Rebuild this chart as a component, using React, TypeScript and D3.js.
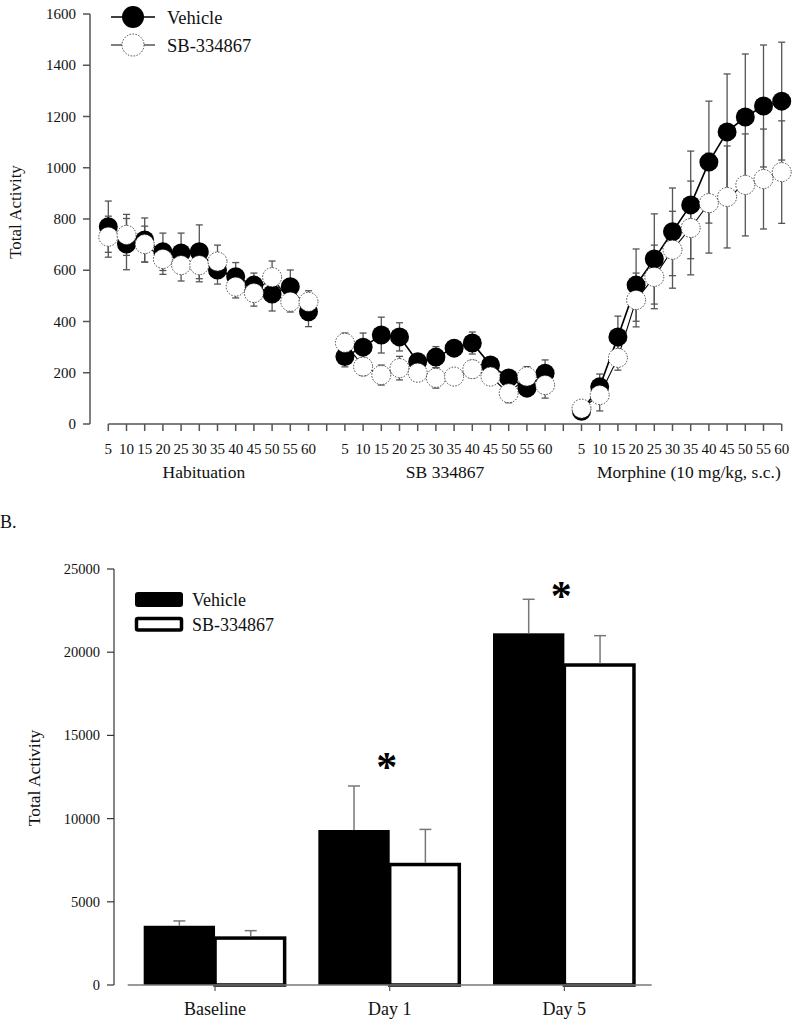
import React from "react";
import * as d3 from "d3";

// ---------- Panel A data ----------
const timeLabels = ["5", "10", "15", "20", "25", "30", "35", "40", "45", "50", "55", "60"];
const phaseNames = ["Habituation", "SB 334867", "Morphine (10 mg/kg, s.c.)"];

const vehicleHab = [770, 702, 718, 672, 667, 672, 601, 575, 542, 507, 536, 438];
const vehicleHabErr = [100, 100, 86, 73, 78, 105, 55, 55, 47, 66, 65, 58];
const sbHab = [731, 738, 702, 644, 620, 620, 634, 536, 511, 573, 477, 477];
const sbHabErr = [80, 80, 70, 60, 62, 65, 64, 44, 51, 63, 40, 43];

const vehicleSbPhase = [263, 300, 347, 340, 243, 261, 296, 316, 230, 180, 140, 198];
const vehicleSbPhaseErr = [40, 55, 70, 55, 25, 41, 30, 43, 20, 30, 25, 52];
const sbSbPhase = [317, 224, 191, 218, 200, 180, 185, 214, 185, 120, 185, 152];
const sbSbPhaseErr = [38, 35, 39, 46, 25, 40, 30, 34, 20, 37, 39, 51];

const vehicleMor = [50, 145, 340, 542, 644, 750, 855, 1022, 1140, 1198, 1241, 1260];
const vehicleMorErr = [15, 50, 81, 141, 176, 171, 210, 238, 226, 246, 238, 230];
const sbMor = [60, 113, 258, 484, 574, 680, 765, 862, 886, 933, 956, 983];
const sbMorErr = [15, 62, 48, 105, 124, 150, 183, 195, 199, 199, 195, 200];

const topYTicks = [0, 200, 400, 600, 800, 1000, 1200, 1400, 1600];

// ---------- Panel B data ----------
const days = ["Baseline", "Day 1", "Day 5"];
const vehicleTotal = [3560, 9315, 21135];
const vehicleTotalErr = [290, 2645, 2045];
const sbTotal = [2820, 7240, 19230];
const sbTotalErr = [445, 2110, 1765];
const bottomYTicks = [0, 5000, 10000, 15000, 20000, 25000];
const significantDays = ["Day 1", "Day 5"];
const asteriskLevels = [13420, 23700];

const FONT = "'Liberation Serif', 'Times New Roman', serif";

type Pt = { i: number; v: number; e: number };

function buildSeries(vals: number[][], errs: number[][]): Pt[][] {
  return vals.map((arr, p) => arr.map((v, j) => ({ i: p * 13 + j, v, e: errs[p][j] })));
}

export default function App() {
  // Panel A scales
  const x = d3.scaleLinear().domain([0, 37]).range([108.3, 781.7]);
  const y = d3.scaleLinear().domain([0, 1600]).range([424, 14]);

  const vehicle = buildSeries([vehicleHab, vehicleSbPhase, vehicleMor], [vehicleHabErr, vehicleSbPhaseErr, vehicleMorErr]);
  const sb = buildSeries([sbHab, sbSbPhase, sbMor], [sbHabErr, sbSbPhaseErr, sbMorErr]);

  const line = d3
    .line<Pt>()
    .x((d) => x(d.i))
    .y((d) => y(d.v));

  const R = 9.5;
  const cap = 3.5;
  const allIdx = d3.range(38);

  // Panel B scales
  const xB = d3.scaleBand<string>().domain(days).range([127.7, 651.7]).paddingInner(0.183).paddingOuter(0.0915);
  const yB = d3.scaleLinear().domain([0, 25000]).range([985, 569]);
  const bw = xB.bandwidth();
  const sw = 3.5;

  const errBars = (series: Pt[][], key: string) =>
    series.flat().map((d, k) => (
      <g key={key + k} stroke="#555" strokeWidth={1.3}>
        <line x1={x(d.i)} x2={x(d.i)} y1={y(d.v - d.e)} y2={y(d.v + d.e)} />
        <line x1={x(d.i) - cap} x2={x(d.i) + cap} y1={y(d.v + d.e)} y2={y(d.v + d.e)} />
        <line x1={x(d.i) - cap} x2={x(d.i) + cap} y1={y(d.v - d.e)} y2={y(d.v - d.e)} />
      </g>
    ));

  return (
    <svg
      width={800}
      height={1022}
      style={{ position: "absolute", left: 0, top: 0, background: "#fff" }}
      fontFamily={FONT}
    >
      <rect x={0} y={0} width={800} height={1022} fill="#fff" />

      {/* ===== Panel A ===== */}
      {/* y axis */}
      <line x1={90} x2={90} y1={y(1600)} y2={y(0)} stroke="#555" strokeWidth={1.5} />
      {topYTicks.map((t) => (
        <g key={"yt" + t}>
          <line x1={83} x2={90} y1={y(t)} y2={y(t)} stroke="#555" strokeWidth={1.5} />
          <text x={76} y={y(t) + 5} textAnchor="end" fontSize={15} fill="#111">
            {t}
          </text>
        </g>
      ))}
      <text transform={`translate(21,212) rotate(-90)`} textAnchor="middle" fontSize={17} fill="#111">
        Total Activity
      </text>

      {/* x axis */}
      <line x1={x(0)} x2={x(37)} y1={424} y2={424} stroke="#555" strokeWidth={1.5} />
      {allIdx.map((i) => (
        <g key={"xt" + i}>
          <line x1={x(i)} x2={x(i)} y1={424} y2={431} stroke="#555" strokeWidth={1.5} />
          {i % 13 !== 12 && (
            <text x={x(i)} y={454} textAnchor="middle" fontSize={15} fill="#111">
              {timeLabels[i % 13]}
            </text>
          )}
        </g>
      ))}
      {phaseNames.map((p, k) => (
        <text
          key={p}
          x={k === 0 ? x(k * 13 + 5.25) : k === 2 ? x(k * 13 + 5.9) : x(k * 13 + 5.5)}
          y={478}
          textAnchor="middle"
          fontSize={17.5}
          fill="#111"
        >
          {p}
        </text>
      ))}

      {/* error bars */}
      {errBars(vehicle, "ve")}
      {errBars(sb, "se")}

      {/* lines */}
      {vehicle.map((seg, k) => (
        <path key={"vl" + k} d={line(seg) || ""} fill="none" stroke="#000" strokeWidth={1.6} />
      ))}
      {sb.map((seg, k) => (
        <path key={"sl" + k} d={line(seg) || ""} fill="none" stroke="#000" strokeWidth={1.1} />
      ))}

      {/* markers */}
      {vehicle.flat().map((d, k) => (
        <circle key={"vm" + k} cx={x(d.i)} cy={y(d.v)} r={R} fill="#000" />
      ))}
      {sb.flat().map((d, k) => (
        <circle
          key={"sm" + k}
          cx={x(d.i)}
          cy={y(d.v)}
          r={R}
          fill="#fff"
          stroke="#444"
          strokeWidth={1}
          strokeDasharray="1.5,1.5"
        />
      ))}

      {/* legend A */}
      <line x1={111} x2={155} y1={17} y2={17} stroke="#000" strokeWidth={1.6} />
      <circle cx={133} cy={17} r={11} fill="#000" />
      <text x={167} y={24} fontSize={18.5} fill="#111">
        Vehicle
      </text>
      <line x1={111} x2={155} y1={45} y2={45} stroke="#000" strokeWidth={1.1} />
      <circle cx={133} cy={45} r={11} fill="#fff" stroke="#444" strokeWidth={1} strokeDasharray="1.5,1.5" />
      <text x={167} y={52} fontSize={18.5} fill="#111">
        SB-334867
      </text>

      {/* Panel label */}
      <text x={0} y={528} fontSize={18} fill="#111">
        B.
      </text>

      {/* ===== Panel B ===== */}
      <line x1={114} x2={114} y1={yB(25000)} y2={yB(0)} stroke="#333" strokeWidth={1.2} />
      {bottomYTicks.map((t) => (
        <g key={"byt" + t}>
          <line x1={107} x2={114} y1={yB(t)} y2={yB(t)} stroke="#333" strokeWidth={1.2} />
          <text x={100} y={yB(t) + 5} textAnchor="end" fontSize={14.5} fill="#111">
            {t}
          </text>
        </g>
      ))}
      <text transform={`translate(40,778) rotate(-90)`} textAnchor="middle" fontSize={17.5} fill="#111">
        Total Activity
      </text>

      {/* bars */}
      {days.map((d, k) => {
        const x0 = xB(d) as number;
        return (
          <g key={"bar" + d}>
            <rect x={x0} y={yB(vehicleTotal[k])} width={bw / 2} height={yB(0) - yB(vehicleTotal[k])} fill="#000" />
            <rect
              x={x0 + bw / 2}
              y={yB(sbTotal[k])}
              width={bw / 2 - sw / 2}
              height={yB(0) - yB(sbTotal[k])}
              fill="#fff"
              stroke="#000"
              strokeWidth={sw}
            />
          </g>
        );
      })}

      {/* x axis B */}
      <line x1={127.7} x2={651.7} y1={yB(0)} y2={yB(0)} stroke="#777" strokeWidth={1.5} />
      {days.map((d) => {
        const cx = (xB(d) as number) + bw / 2;
        return (
          <g key={"bxt" + d}>
            <line x1={cx} x2={cx} y1={yB(0)} y2={yB(0) + 6} stroke="#555" strokeWidth={1.2} />
            <text x={cx} y={1015} textAnchor="middle" fontSize={18} fill="#111">
              {d}
            </text>
          </g>
        );
      })}

      {/* error bars B */}
      {days.map((d, k) => {
        const x0 = xB(d) as number;
        const vx = x0 + bw / 4;
        const sx = x0 + (3 * bw) / 4;
        return (
          <g key={"be" + d} stroke="#777" strokeWidth={1.5}>
            <line x1={vx} x2={vx} y1={yB(vehicleTotal[k])} y2={yB(vehicleTotal[k] + vehicleTotalErr[k])} />
            <line x1={vx - 6} x2={vx + 6} y1={yB(vehicleTotal[k] + vehicleTotalErr[k])} y2={yB(vehicleTotal[k] + vehicleTotalErr[k])} />
            <line x1={sx} x2={sx} y1={yB(sbTotal[k]) - sw / 2} y2={yB(sbTotal[k] + sbTotalErr[k])} />
            <line x1={sx - 6} x2={sx + 6} y1={yB(sbTotal[k] + sbTotalErr[k])} y2={yB(sbTotal[k] + sbTotalErr[k])} />
          </g>
        );
      })}

      {/* significance asterisks */}
      {significantDays.map((d, k) => {
        const cx = (xB(d) as number) + bw / 2 - 3;
        return (
          <text key={"ast" + d} x={cx} y={yB(asteriskLevels[k]) + 19} textAnchor="middle" fontSize={42} fontWeight="bold" fill="#000">
            *
          </text>
        );
      })}

      {/* legend B */}
      <rect x={135} y={592} width={48} height={15} rx={3} fill="#000" />
      <text x={192} y={606} fontSize={18} fill="#111">
        Vehicle
      </text>
      <rect x={136.5} y={618.5} width={45} height={11.5} rx={1.5} fill="#fff" stroke="#000" strokeWidth={3.5} />
      <text x={192} y={631} fontSize={18} fill="#111">
        SB-334867
      </text>
    </svg>
  );
}
